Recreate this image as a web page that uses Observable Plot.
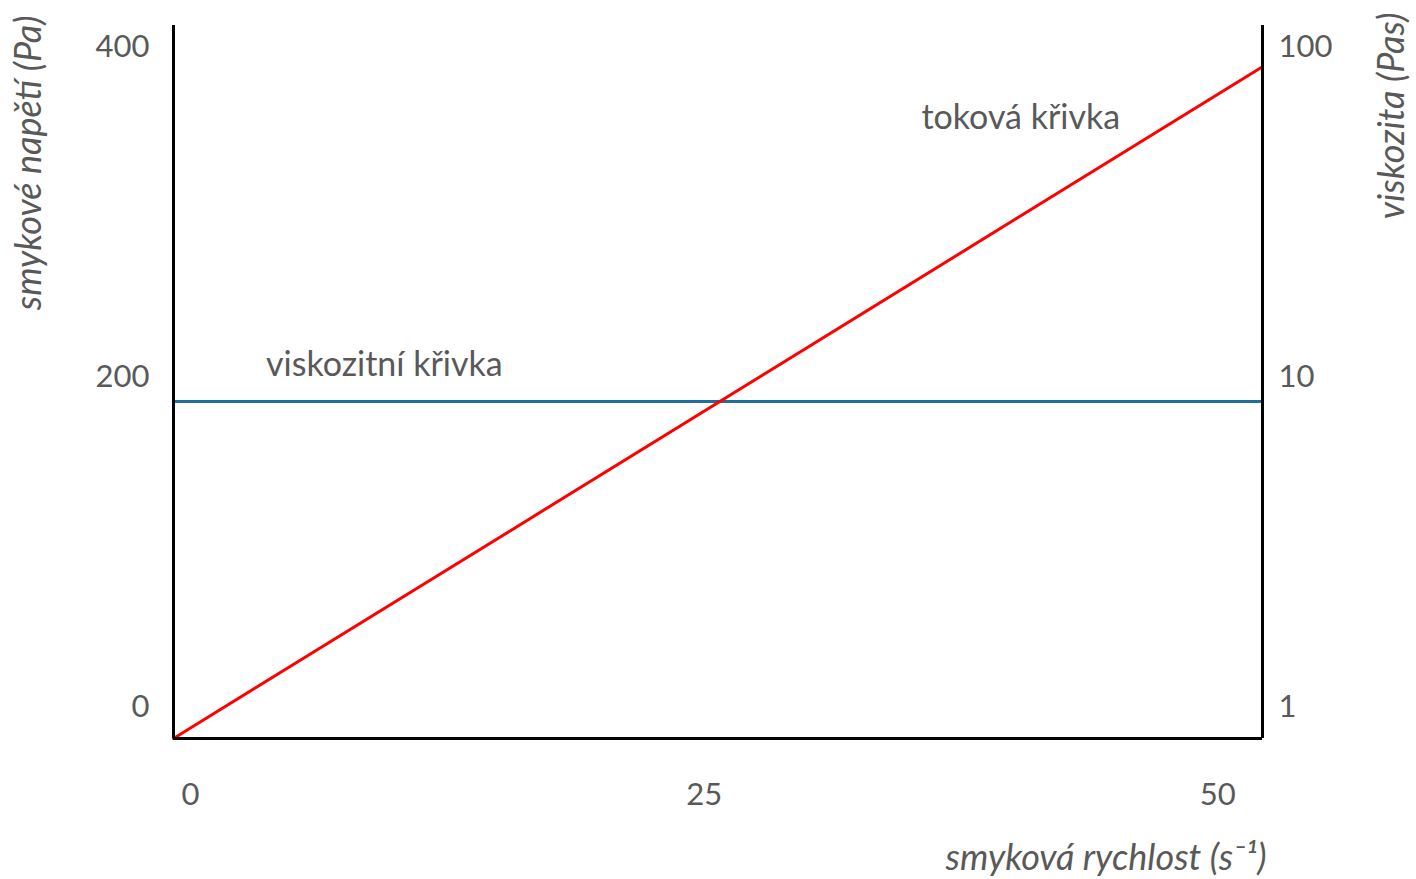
<!DOCTYPE html>
<html>
<head>
<meta charset="utf-8">
<script src="https://cdn.jsdelivr.net/npm/d3@7"></script>
<script src="https://cdn.jsdelivr.net/npm/@observablehq/plot@0.6"></script>
<style>
  html, body { margin: 0; padding: 0; background: #fff; }
  #chart svg { display: block; }
</style>
</head>
<body>
<div id="chart"></div>
<script>
// Schematic of a Newtonian fluid: flow curve (stress vs. shear rate)
// and viscosity curve (constant viscosity, log axis on the right).

// axis ticks
const shearTicks = [0, 25, 50];          // shear rate, 1/s
const stressTicks = [0, 200, 400];       // shear stress, Pa
const viscosityTicks = [1, 10, 100];     // viscosity, Pa·s (log)

// extents of the drawing area
const shearExtent = [0, 53];
const stressExtent = [0, 432];

// flow curve: stress grows linearly with shear rate
const flowShear = [0, 53];
const flowStress = [0, 407];

// viscosity curve: constant viscosity over the whole range
const viscShear = [0, 53];
const viscValue = [10.5, 10.5];

// curve annotations
const labelText = ["viskozitní křivka", "toková křivka"];
const labelShear = [4.5, 36.4];
const labelStress = [226, 376];

// the right-hand viscosity axis shares the stress scale: 1 decade = 200 units
const decade = 200;
const toStress = v => decade * Math.log10(v);

const flow = flowShear.map((x, i) => ({x, y: flowStress[i]}));
const visc = viscShear.map((x, i) => ({x, y: toStress(viscValue[i])}));
const labels = labelText.map((t, i) => ({t, x: labelShear[i], y: labelStress[i]}));

const textColor = "#595959";
const font = "Lato, 'Open Sans', sans-serif";

const chart = Plot.plot({
  width: 1416,
  height: 879,
  marginLeft: 173,
  marginRight: 154,
  marginTop: 25,
  marginBottom: 141,
  style: {fontFamily: font, color: textColor, background: "#fff"},
  x: {domain: shearExtent},
  y: {domain: stressExtent},
  marks: [
    Plot.line(visc, {x: "x", y: "y", stroke: "#1f6e9e", strokeWidth: 3}),
    Plot.line(flow, {x: "x", y: "y", stroke: "#ff0000", strokeWidth: 3}),
    Plot.ruleX(shearExtent, {stroke: "#000", strokeWidth: 3}),
    Plot.ruleY([stressExtent[0]], {stroke: "#000", strokeWidth: 3}),
    Plot.axisX({
      ticks: shearTicks, tickSize: 0, tickPadding: 44, dx: 17,
      fontSize: 31, fill: textColor, label: null
    }),
    Plot.axisY({
      anchor: "left", ticks: stressTicks, tickSize: 0, tickPadding: 24, dy: -31,
      fontSize: 31, fill: textColor, label: null
    }),
    Plot.axisY({
      anchor: "right", ticks: viscosityTicks.map(toStress),
      tickFormat: d => String(Math.round(10 ** (d / decade))),
      tickSize: 0, tickPadding: 16, dy: -31,
      fontSize: 31, fill: textColor, label: null
    }),
    Plot.text(labels, {
      x: "x", y: "y", text: "t", textAnchor: "start",
      fontSize: 34, fill: textColor
    }),
    // axis titles
    Plot.text(["smyková rychlost (s⁻¹)"], {
      frameAnchor: "bottom-right", textAnchor: "end", dx: 4, dy: 131,
      fontSize: 36, fontStyle: "italic", fill: textColor
    }),
    Plot.text(["smykové napětí (Pa)"], {
      frameAnchor: "top-left", rotate: -90, textAnchor: "end",
      dx: -158, dy: -10, fontSize: 36, fontStyle: "italic", fill: textColor
    }),
    Plot.text(["viskozita (Pas)"], {
      frameAnchor: "top-right", rotate: -90, textAnchor: "end",
      dx: 116, dy: -13, fontSize: 36, fontStyle: "italic", fill: textColor
    })
  ]
});

document.getElementById("chart").append(chart);
</script>
</body>
</html>
